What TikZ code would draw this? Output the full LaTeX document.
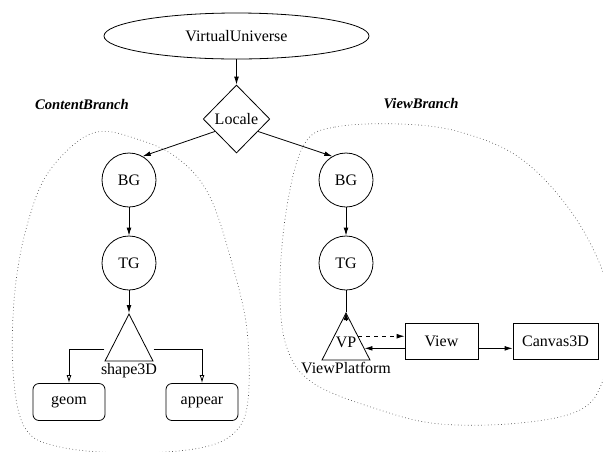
\documentclass[tikz,border=0pt]{standalone}
\usepackage{fontspec}
\setmainfont{Liberation Serif}
\usetikzlibrary{shapes.geometric}
\usetikzlibrary{arrows.meta}
\usetikzlibrary{positioning}
\usetikzlibrary{calc}

\begin{document}
\begin{tikzpicture}[x=0.75pt, y=-0.75pt, line width=0.6pt,
    every node/.style={font=\fontsize{12}{14}\selectfont},
    grp/.style={circle, draw, minimum size=40.5pt, inner sep=0pt},
    tri/.style={isosceles triangle, draw, shape border rotate=90, isosceles triangle stretches,
      minimum width=36pt, minimum height=35.25pt, inner sep=0pt},
    leaf/.style={draw, rounded corners=4.5pt, minimum width=54pt, minimum height=27.75pt},
    obj/.style={draw, minimum width=54.75pt, minimum height=27pt},
    arr/.style={-{Latex[length=6pt, width=3.6pt]}},
    openarr/.style={-{Latex[open, length=6pt, width=3.6pt]}},
    branch/.style={font=\fontsize{11}{13}\selectfont\bfseries\itshape},
    blob/.style={dotted, line width=0.5pt, black!70}]

        \useasboundingbox (0,0) rectangle (603,451);

        % the two dotted groups
        \draw[blob] plot[smooth cycle, tension=0.6] coordinates {(93,133) (140,140) (180,160) (210,197)
          (233,267) (247,330) (248,400) (235,432) (200,448) (130,453) (60,447) (25,428)
          (13,370) (15,290) (28,222) (50,170)};
        \draw[blob] plot[smooth cycle, tension=0.6] coordinates {(305,143) (335,127) (400,124) (460,132)
          (520,158) (570,210) (603,272) (612,325) (603,380) (580,410) (520,423) (440,424)
          (380,410) (313,383) (286,345) (280,280) (288,200)};

        \node[ellipse, draw, minimum width=198.75pt, minimum height=34.5pt] (vu) at (236.5,36) {VirtualUniverse};
        \node[diamond, draw, minimum width=50pt, minimum height=51pt, inner sep=0pt] (loc) at (236.5,119) {Locale};

        \node[branch] (cb) at (82,104) {ContentBranch};
        \node[branch] (vb) at (421,104) {ViewBranch};

        % content branch
        \node[grp] (bgc) at (129,180) {BG};
        \node[grp] (tgc) at (129,263) {TG};
        \node[tri, anchor=apex, label={[inner sep=1pt]below:shape3D}] (shp) at (129,313) {};
        \node[leaf] (geom) at (69,402) {geom};
        \node[leaf] (appear) at (202,402) {appear};

        % view branch
        \node[grp] (bgv) at (346,180) {BG};
        \node[grp] (tgv) at (346,263) {TG};
        \node[tri, anchor=apex, label={[inner sep=1pt]below:ViewPlatform}] (vp) at (346,312) {};
        \node (vpname) at (346,342) {VP};
        \node[obj] (view) at (441.5,341) {View};
        \node[obj, minimum width=63.75pt] (canvas) at (555.5,341) {Canvas3D};

        \draw[arr] (vu) -- (loc);
        \draw[arr] (loc.210) -- (bgc.60);
        \draw[arr] (loc.330) -- (bgv.120);

        \draw[arr] (bgc) -- (tgc);
        \draw[arr] (tgc) -- (shp.apex);
        \draw[openarr] (shp.left corner) ++(0,-12) -| (geom);
        \draw[openarr] (shp.right corner) ++(0,-12) -| (appear);

        \draw[arr] (bgv) -- (tgv);
        \draw (tgv) -- (vp.apex);
        \draw[arr] (vp.apex) ++(0,9) -- (vp.apex); % head points up into TG line
        \coordinate (vpin) at ($(vp.right side)!.5!(vp.right corner)$);
        \draw[arr, dashed] (vp.right side) -- (view.west |- vp.right side);
        \draw[arr] (view.west |- vpin) -- (vpin);
        \draw[arr] (view.east |- vpin) -- (canvas.west |- vpin);

\end{tikzpicture}
\end{document}
